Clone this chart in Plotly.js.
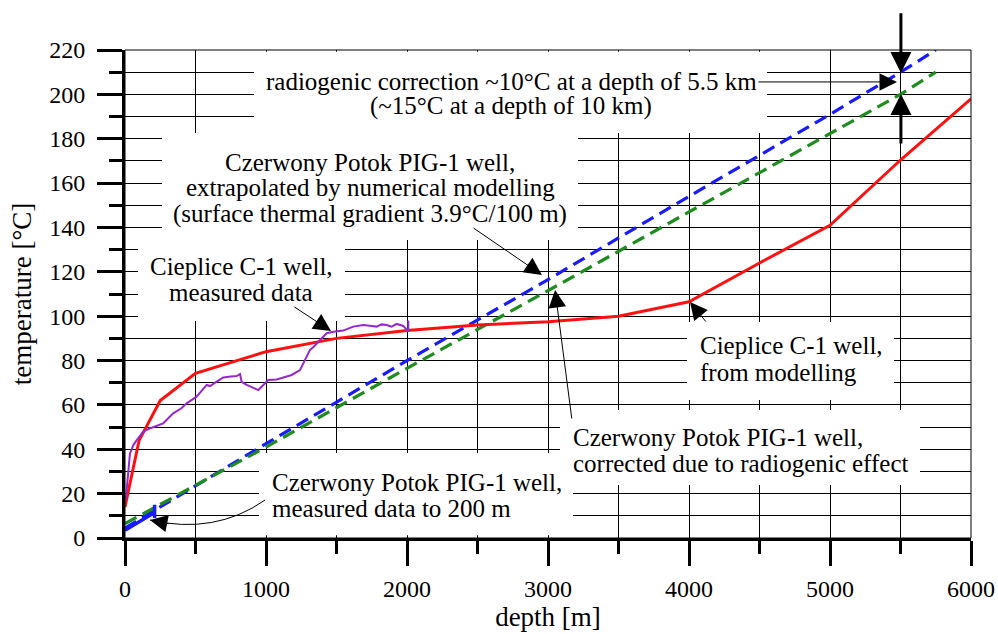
<!DOCTYPE html>
<html>
<head>
<meta charset="utf-8">
<script src="https://cdn.plot.ly/plotly-3.0.1.min.js"></script>
<style>html,body{margin:0;padding:0;background:#fff;}#chart{width:998px;height:634px;}</style>
</head>
<body>
<div id="chart"></div>
<script>
// ---- data ----
const extrapDepth = [0, 1000, 2000, 3000, 4000, 5000, 5500, 5750];
const extrapTemp  = [4.5, 42.5, 80, 116.5, 154, 191, 210, 220];

const correctedDepth = [0, 1000, 2000, 3000, 4000, 5000, 5500, 5750];
const correctedTemp  = [6.5, 41, 76.5, 111.5, 147, 182.5, 200, 210];

const measuredPIGDepth = [0, 200, 210, 210, 210];
const measuredPIGTemp  = [3.5, 11, 11.5, 15, 9];

const modelCDepth = [0, 100, 250, 500, 1000, 1500, 2000, 2500, 3000, 3500, 4000, 4500, 5000, 5500, 6000];
const modelCTemp  = [14, 44, 62, 74.2, 84, 90, 93.5, 96, 97.5, 100, 106.5, 124, 141, 170.4, 198];

const measCDepth = [5, 20, 35, 47, 60, 82, 130, 180, 224, 271, 342, 400, 437, 508, 579, 603, 650, 697, 750, 792, 816, 827, 863, 910, 946, 981, 1017, 1076, 1123, 1182, 1241, 1277, 1312, 1335, 1383, 1430, 1478, 1548, 1619, 1690, 1750, 1785, 1820, 1856, 1891, 1927, 1974, 2009, 2009, 2009];
const measCTemp  = [17, 28, 38, 40, 42, 44, 48, 49.5, 50.5, 51.7, 56.2, 58.5, 60.7, 63.7, 69, 68.5, 70.5, 72.4, 72.8, 73, 73.9, 70.4, 69, 67.5, 66.7, 69, 71.2, 71.5, 72.4, 73.5, 75.7, 80.2, 84.8, 86, 89, 92.3, 93, 93.5, 95.3, 96, 95.6, 95.3, 96.3, 96, 95.3, 96.5, 95.6, 93, 98, 94];

const xTickVals = [0, 1000, 2000, 3000, 4000, 5000, 6000];
const yTickVals = [0, 20, 40, 60, 80, 100, 120, 140, 160, 180, 200, 220];

// ---- styling ----
const FONT = '"Liberation Serif", "Times New Roman", serif';
const traces = [
  {x: extrapDepth, y: extrapTemp, mode: 'lines', line: {color: '#1a1aff', width: 3.2, dash: '13px,7px'}},
  {x: correctedDepth, y: correctedTemp, mode: 'lines', line: {color: '#1e8c1e', width: 3.2, dash: '13px,7px'}},
  {x: measuredPIGDepth, y: measuredPIGTemp, mode: 'lines', line: {color: '#1a1aff', width: 3.5}},
  {x: modelCDepth, y: modelCTemp, mode: 'lines', line: {color: '#ff1010', width: 3}},
  {x: measCDepth, y: measCTemp, mode: 'lines', line: {color: '#9628cc', width: 2}}
];

function box(x0, x1, y0, y1) {
  return {type: 'rect', xref: 'x', yref: 'y', x0: x0, x1: x1, y0: y0, y1: y1,
          fillcolor: '#ffffff', line: {width: 0}, layer: 'between'};
}
const shapes = [
  box(915, 4553, 182.6, 219.2),
  box(262, 3213, 134.4, 182.6),
  box(92, 1560, 97.8, 134.4),
  box(3986, 5454, 62.2, 97.4),
  box(3085, 5638, 23.9, 57.7),
  box(950, 3177, 1.2, 38.3),
  {type: 'rect', xref: 'paper', yref: 'paper', x0: 0, x1: 1, y0: 0, y1: 1,
   line: {color: '#000', width: 1}, layer: 'above'},
  {type: 'path', xref: 'x', yref: 'y', path: 'M 993,17.1 Q 638,1.35 177,8.1',
   line: {color: '#000', width: 1}, layer: 'above'}
];

const txtFont = {family: FONT, size: 25, color: '#000'};
function label(text, x, y, xanchor) {
  return {text: text, x: x, y: y, xref: 'x', yref: 'y', showarrow: false,
          xanchor: xanchor, yanchor: 'middle', align: xanchor, font: txtFont};
}
function arrow(tx, ty, hx, hy, w, size) {
  return {text: '', x: hx, y: hy, ax: tx, ay: ty, xref: 'x', yref: 'y', axref: 'x', ayref: 'y',
          showarrow: true, arrowhead: 2, arrowsize: size, arrowwidth: w, arrowcolor: '#000', standoff: 0};
}
const annotations = [
  label('radiogenic correction ~10°C at a depth of 5.5 km', 2738, 205.8, 'center'),
  label('(~15°C at a depth of 10 km)', 2738, 194.6, 'center'),
  label('Czerwony Potok PIG-1 well,', 1738, 169.5, 'center'),
  label('extrapolated by numerical modelling', 1738, 157.8, 'center'),
  label('(surface thermal gradient 3.9°C/100 m)', 1738, 146.1, 'center'),
  label('Cieplice C-1 well,', 823, 122.6, 'center'),
  label('measured data', 823, 110.5, 'center'),
  label('Cieplice C-1 well,', 4065, 86.6, 'left'),
  label('from modelling', 4065, 74.4, 'left'),
  label('Czerwony Potok PIG-1 well,', 3165, 45.5, 'left'),
  label('corrected due to radiogenic effect', 3165, 33.8, 'left'),
  label('Czerwony Potok PIG-1 well,', 1030, 24.8, 'left'),
  label('measured data to 200 m', 1030, 13.5, 'left'),
  arrow(4482, 205.6, 5475, 205.6, 1, 3.5),
  arrow(5503, 237.2, 5503, 209.6, 3, 1.4),
  arrow(5503, 177.2, 5503, 200.2, 3, 1.4),
  arrow(2461, 140.2, 2957, 118.6, 1, 3.5),
  arrow(1191, 104.6, 1461, 93.3, 1, 3.5),
  arrow(4128, 96.9, 4007, 106.4, 1, 3.5),
  arrow(3170, 53.2, 3050, 111.8, 1, 3.5),
  {text: '', x: 177, y: 8.1, ax: 20, ay: 4, xref: 'x', yref: 'y', showarrow: true,
   arrowhead: 2, arrowsize: 3.5, arrowwidth: 1, arrowcolor: '#000', standoff: 0}
];

const layout = {
  width: 998, height: 634,
  margin: {l: 125, r: 27, t: 50, b: 96},
  paper_bgcolor: '#fff', plot_bgcolor: '#fff',
  showlegend: false,
  font: {family: FONT, color: '#000'},
  xaxis: {
    range: [0, 6000], tickvals: xTickVals, ticks: 'outside', ticklen: 25, tickwidth: 3, tickcolor: '#000',
    showline: true, linewidth: 3, linecolor: '#000', zeroline: false,
    showgrid: true, gridcolor: '#000', gridwidth: 1,
    minor: {dtick: 500, ticks: 'outside', ticklen: 13, tickwidth: 3, tickcolor: '#000', showgrid: true, gridcolor: '#000', gridwidth: 1},
    tickfont: {family: FONT, size: 24, color: '#000'},
    ticklabelstandoff: 2,
    title: {text: 'depth [m]', font: {family: FONT, size: 27, color: '#000'}, standoff: 3},
    fixedrange: true
  },
  yaxis: {
    range: [0, 220], tickvals: yTickVals, ticks: 'outside', ticklen: 25, tickwidth: 3, tickcolor: '#000',
    showline: true, linewidth: 3, linecolor: '#000', zeroline: false,
    showgrid: true, gridcolor: '#000', gridwidth: 1,
    minor: {dtick: 10, ticks: 'outside', ticklen: 13, tickwidth: 3, tickcolor: '#000', showgrid: true, gridcolor: '#000', gridwidth: 1},
    tickfont: {family: FONT, size: 24, color: '#000'},
    ticklabelstandoff: 7,
    title: {text: 'temperature [°C]', font: {family: FONT, size: 27, color: '#000'}, standoff: 10},
    fixedrange: true
  },
  shapes: shapes,
  annotations: annotations
};

Plotly.newPlot('chart', traces, layout, {displayModeBar: false, staticPlot: true});
</script>
</body>
</html>
